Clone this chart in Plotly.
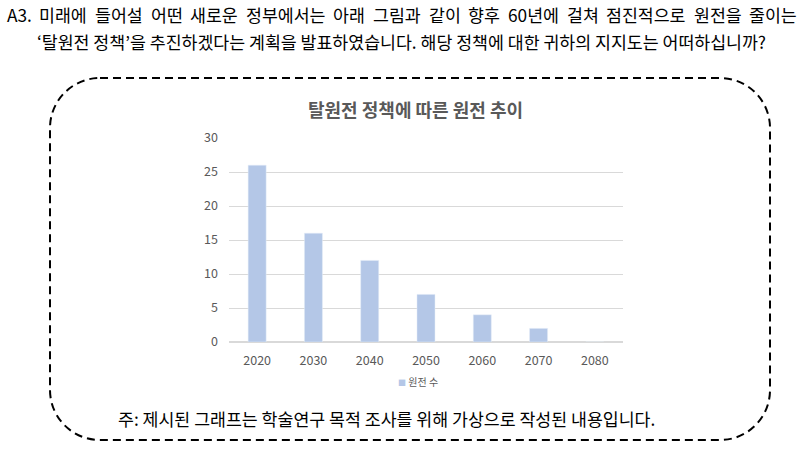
import plotly.graph_objects as go

# ---- data ----
years = ["2020", "2030", "2040", "2050", "2060", "2070", "2080"]
plants = [26, 16, 12, 7, 4, 2, 0]
series_name = "원전 수"
chart_title = "탈원전 정책에 따른 원전 추이"
question_line1_words = ["A3.", "미래에", "들어설", "어떤", "새로운", "정부에서는", "아래", "그림과",
                        "같이", "향후", "60년에", "걸쳐", "점진적으로", "원전을", "줄이는"]
question_line2 = "‘탈원전 정책’을 추진하겠다는 계획을 발표하였습니다. 해당 정책에 대한 귀하의 지지도는 어떠하십니까?"
footnote = "주: 제시된 그래프는 학술연구 목적 조사를 위해 가상으로 작성된 내용입니다."

W, H = 800, 449
FONT = "Noto Sans CJK KR"
GRAY = "#595959"
BAR = "#b4c7e7"

def px(x):
    return x / W

def py(y):
    return 1 - y / H

fig = go.Figure()
fig.add_trace(go.Bar(x=years, y=plants, name=series_name, marker_color=BAR,
                     showlegend=False))

# plot area
x0, x1 = 229, 623
y_top, y_bot = 138, 342

annotations = []

FS = 17.3
def est_width(word):
    w = 0
    for ch in word:
        if '\uac00' <= ch <= '\ud7a3':
            w += FS * 0.92
        elif ch.isdigit():
            w += FS * 0.55
        elif ch == 'A':
            w += FS * 0.62
        elif ch == '.':
            w += FS * 0.25
        else:
            w += FS * 0.5
    return w

widths = [est_width(w) for w in question_line1_words]
left, right = 5, 795
gap = (right - left - sum(widths)) / (len(widths) - 1)
cx = left
for w, wd in zip(question_line1_words, widths):
    annotations.append(dict(x=px(cx), y=py(14), xref="paper", yref="paper", text=w,
                            showarrow=False, xanchor="left", yanchor="middle",
                            font=dict(family=FONT, size=FS, color="#000000")))
    cx += wd + gap

annotations.append(dict(x=px(35), y=py(41), xref="paper", yref="paper", text=question_line2,
                        showarrow=False, xanchor="left", yanchor="middle",
                        font=dict(family=FONT, size=FS, color="#000000")))

annotations.append(dict(x=px(415), y=py(109), xref="paper", yref="paper",
                        text="<b>" + chart_title + "</b>",
                        showarrow=False, xanchor="center", yanchor="middle",
                        font=dict(family=FONT, size=18, color=GRAY)))

annotations.append(dict(x=px(116), y=py(418), xref="paper", yref="paper", text=footnote,
                        showarrow=False, xanchor="left", yanchor="middle",
                        font=dict(family=FONT, size=FS, color="#000000")))

# legend (manual, small square marker)
annotations.append(dict(x=px(418), y=py(381), xref="paper", yref="paper",
                        text=f'<span style="color:{BAR};font-size:8px">■</span> {series_name}',
                        showarrow=False, xanchor="center", yanchor="middle",
                        font=dict(family=FONT, size=10, color=GRAY)))

# rounded dashed rectangle
L, R, T, B = 50, 770, 78, 440
r = 50
k = 0.5523 * r
def P(x, y):
    return f"{px(x):.5f},{py(y):.5f}"
path = (f"M {P(L + r, T)} L {P(R - r, T)} "
        f"C {P(R - r + k, T)} {P(R, T + r - k)} {P(R, T + r)} "
        f"L {P(R, B - r)} "
        f"C {P(R, B - r + k)} {P(R - r + k, B)} {P(R - r, B)} "
        f"L {P(L + r, B)} "
        f"C {P(L + r - k, B)} {P(L, B - r + k)} {P(L, B - r)} "
        f"L {P(L, T + r)} "
        f"C {P(L, T + r - k)} {P(L + r - k, T)} {P(L + r, T)} Z")

fig.update_layout(
    width=W, height=H,
    margin=dict(l=0, r=0, t=0, b=0, autoexpand=False),
    paper_bgcolor="white", plot_bgcolor="white",
    font=dict(family=FONT, color=GRAY),
    bargap=0.68,
    xaxis=dict(domain=[px(x0), px(x1)], type="category", showgrid=False, showline=False,
               ticks="", ticklabelstandoff=9, automargin=False,
               tickfont=dict(size=12.5, color=GRAY), fixedrange=True),
    yaxis=dict(domain=[py(y_bot), py(y_top)], range=[0, 30], dtick=5, showgrid=True,
               gridcolor="#d9d9d9", gridwidth=1, zeroline=True, zerolinecolor="#d9d9d9",
               showline=False, ticks="", ticklabelstandoff=10, automargin=False,
               tickfont=dict(size=12.5, color=GRAY)),
    showlegend=False,
    annotations=annotations,
    shapes=[dict(type="path", path=path, xref="paper", yref="paper",
                 line=dict(color="black", width=2, dash="8px,5px"))],
)

fig.write_html("out.html")
